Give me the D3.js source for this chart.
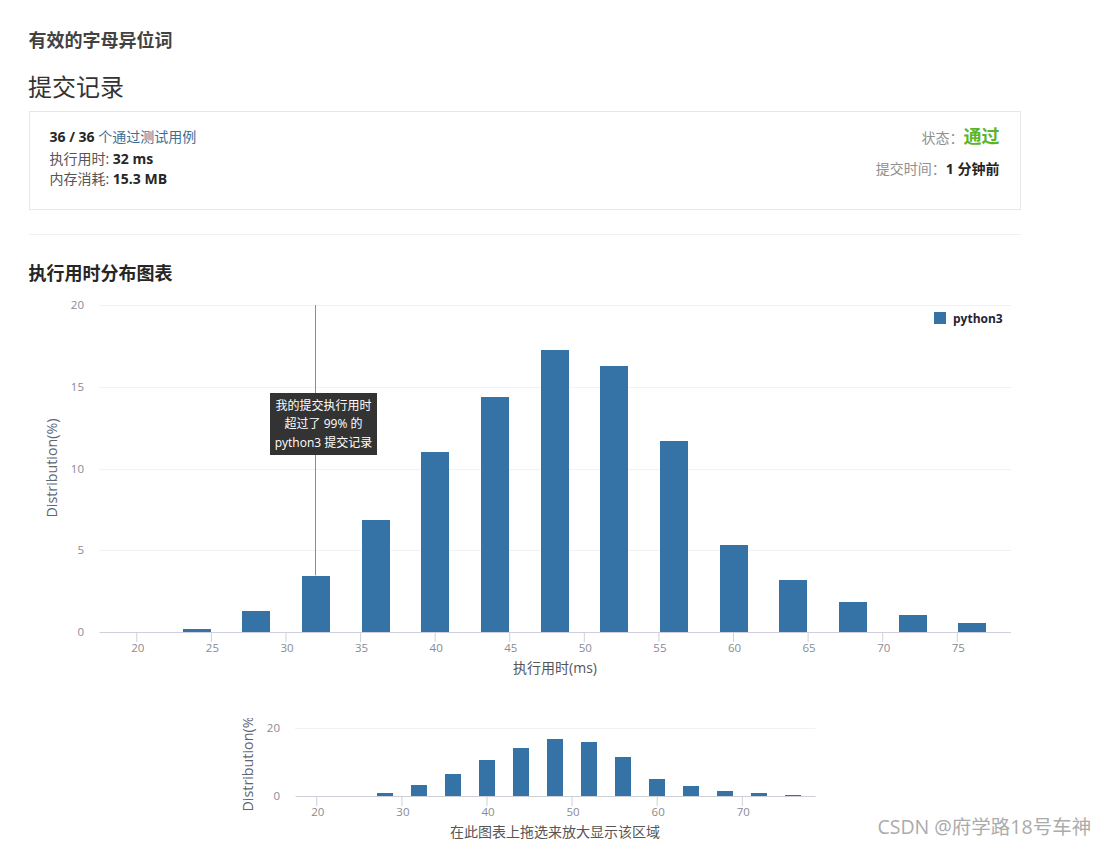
<!DOCTYPE html>
<html><head><meta charset="utf-8">
<script src="https://cdn.jsdelivr.net/npm/d3@7/dist/d3.min.js"></script>
<style>
html,body{margin:0;padding:0;background:#fff;overflow:hidden}
svg{display:block}
text{font-family:"Open Sans","Noto Sans CJK SC",sans-serif}
</style></head><body>
<svg id="c" width="1106" height="846"></svg>
<script>
const bins = [24,28,32,36,40,44,48,52,56,60,64,68,72,76];
const values = [0.18,1.28,3.4,6.85,11.0,14.4,17.25,16.27,11.7,5.32,3.18,1.83,1.04,0.55];
const mainXTicks = [20,25,30,35,40,45,50,55,60,65,70,75];
const mainYTicks = [0,5,10,15,20];
const navXTicks = [20,30,40,50,60,70];
const navYTicks = [0,20];
const xDomain = [17.5,78.6];
const submission = 32;
const seriesName = "python3";
const tooltipLines = ["我的提交执行用时","超过了 99% 的","python3 提交记录"];
const barColor = "#3572a5";

const svg = d3.select("#c");
function txt(x,y,parts,anchor,size,color,weight){
  const t = svg.append("text").attr("x",x).attr("y",y).attr("dy","0.35em")
    .attr("text-anchor",anchor||"start").attr("font-size",size).attr("fill",color||"#333");
  if(weight) t.attr("font-weight",weight);
  (Array.isArray(parts)?parts:[[parts]]).forEach(p=>{
    const s=t.append("tspan").text(p[0]);
    if(p[1]) s.attr("fill",p[1]);
    if(p[2]) s.attr("font-weight",p[2]);
    if(p[3]) s.attr("font-size",p[3]);
  });
  return t;
}
// page header
txt(28.5,41,"有效的字母异位词","start",18,"#424242",700);
txt(28,88,"提交记录","start",24,"#333");
svg.append("rect").attr("x",29.5).attr("y",111.5).attr("width",991).attr("height",98)
  .attr("fill","#fff").attr("stroke","#e7e7e7");
txt(49.5,137,[["36 / 36 ","#262626",700],["个通过测试用例","#3d6f96"]],"start",14);
txt(49.5,159,[["执行用时: ","#555"],["32 ms","#262626",700]],"start",14);
txt(49.5,179,[["内存消耗: ","#555"],["15.3 MB","#262626",700]],"start",14);
txt(999.5,138.5,[["状态：","#8f8f8f",400,14],["通过","#5cb527",700,18]],"end",14);
txt(999.5,169,[["提交时间：","#8f8f8f"],["1 分钟前","#262626",700]],"end",14);
svg.append("line").attr("x1",29).attr("x2",1021).attr("y1",234.5).attr("y2",234.5).attr("stroke","#f0f0f0");
txt(28.5,274,"执行用时分布图表","start",18,"#262626",700);

function chart(cfg){
  const x = d3.scaleLinear().domain(xDomain).range(cfg.xr);
  const y = d3.scaleLinear().domain([0,20]).range(cfg.yr);
  const g = svg.append("g");
  g.selectAll(".grid").data(cfg.yTicks.filter(d=>d>0)).join("line")
    .attr("x1",cfg.xr[0]).attr("x2",cfg.xr[1]+.5)
    .attr("y1",d=>Math.round(y(d))+.5).attr("y2",d=>Math.round(y(d))+.5)
    .attr("stroke","#f2f2f4");
  g.selectAll("rect.bar").data(bins.map((b,i)=>[b,values[i]])).join("rect").attr("class","bar")
    .attr("x",d=>Math.round(x(d[0])+.55-cfg.bw/2)).attr("width",cfg.bw)
    .attr("y",d=>Math.round(y(d[1])+cfg.inset)).attr("height",d=>Math.max(0,Math.round(y(0))-Math.round(y(d[1])+cfg.inset)))
    .attr("fill",barColor);
  const ax = g.append("g").attr("transform",`translate(0,${y(0)})`)
    .call(d3.axisBottom(x).tickValues(cfg.xTicks).tickSize(10).tickPadding(1.5).tickSizeOuter(0));
  ax.select(".domain").attr("stroke","#cdd0d8").attr("stroke-width",1);
  ax.selectAll(".tick line").attr("stroke","#cdd0d8");
  ax.selectAll("text").attr("fill","#888a96").attr("font-size",11.5).attr("dx",1)
    .style("font-family",'"Open Sans",sans-serif');
  const ay = g.append("g").attr("transform",`translate(${cfg.xr[0]-15},0)`)
    .call(d3.axisLeft(y).tickValues(cfg.yTicks).tickSize(0).tickPadding(0));
  ay.select(".domain").remove();
  ay.selectAll("text").attr("fill","#888a96").attr("font-size",11.5)
    .style("font-family",'"Open Sans",sans-serif');
  return {x,y,g};
}

const main = chart({xr:[99,1010.5],yr:[632,305],bw:28,inset:0,xTicks:mainXTicks,yTicks:mainYTicks});
const nav = chart({xr:[295,815],yr:[796,728.3],bw:16,inset:1,xTicks:navXTicks,yTicks:navYTicks});

// axis titles
txt(555,668,"执行用时(ms)","middle",14,"#555");
svg.append("text").attr("transform","translate(52,468) rotate(-90)").attr("dy","0.35em")
  .attr("text-anchor","middle").attr("font-size",14.3).attr("fill","#5f6672").text("Distribution(%)");
svg.append("clipPath").attr("id","navClip").append("rect").attr("x",235).attr("y",718).attr("width",30).attr("height",100);
svg.append("g").attr("clip-path","url(#navClip)").append("text")
  .attr("transform","translate(248,811.5) rotate(-90)").attr("dy","0.35em")
  .attr("text-anchor","start").attr("font-size",14.3).attr("fill","#5f6672").text("Distribution(%)");
txt(555,832,"在此图表上拖选来放大显示该区域","middle",14,"#555");

// legend
svg.append("rect").attr("x",934).attr("y",312).attr("width",12).attr("height",12).attr("fill",barColor);
txt(953,319,seriesName,"start",12,"#1f2430",700);

// submission marker
const sx = Math.round(main.x(submission))+.5;
svg.append("line").attr("x1",sx).attr("x2",sx).attr("y1",305).attr("y2",main.y(values[bins.indexOf(submission)])-1)
  .attr("stroke","#8c8c8c");
svg.append("rect").attr("x",270).attr("y",393).attr("width",107).attr("height",62).attr("fill","#333");
tooltipLines.forEach((l,i)=>txt(323.5,405.5+i*18.5,l,"middle",12,"#fff"));

// watermark
txt(877.5,827,"CSDN @府学路18号车神","start",19.5,"#ababab");
</script>
</body></html>
